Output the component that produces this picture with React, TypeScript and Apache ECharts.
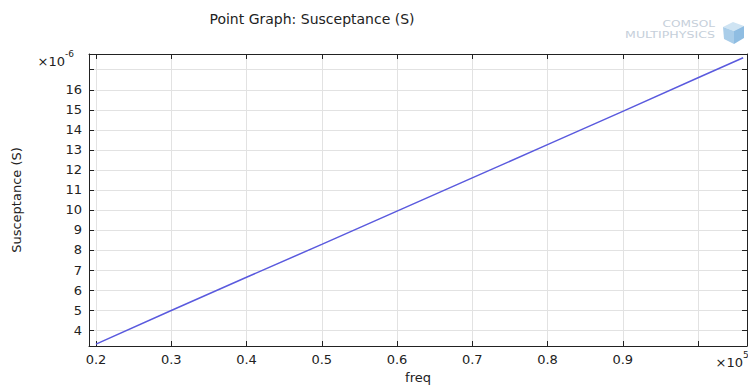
import React, { useEffect, useRef } from "react";
import * as echarts from "echarts";

// freq in units of 1e5 Hz, susceptance in units of 1e-6 S
const freq = [0.2, 0.3, 0.4, 0.5, 0.6, 0.7, 0.8, 0.9, 1.0, 1.06];
const susceptance = [3.3, 4.98, 6.64, 8.28, 9.94, 11.6, 13.26, 14.92, 16.6, 17.6];
const xTicks = [0.2, 0.3, 0.4, 0.5, 0.6, 0.7, 0.8, 0.9, 1.0];
const xLabels = [0.2, 0.3, 0.4, 0.5, 0.6, 0.7, 0.8, 0.9];
const yTicks = [4, 5, 6, 7, 8, 9, 10, 11, 12, 13, 14, 15, 16, 17];
const yLabels = [4, 5, 6, 7, 8, 9, 10, 11, 12, 13, 14, 15, 16];

const X_MIN = 0.1907;
const X_MAX = 1.0651;
const Y_MIN = 3.207;
const Y_MAX = 17.785;

const FONT = "DejaVu Sans";
const TXT = "#222";

export default function App() {
  const ref = useRef<HTMLDivElement>(null);
  useEffect(() => {
    if (!ref.current) return;
    const chart = echarts.init(ref.current, null, { renderer: "svg" });
    const axisLine = { show: true, lineStyle: { color: "#222", width: 1 } };
    const tickStyle = { lineStyle: { color: "#222", width: 1 } };
    chart.setOption({
      animation: false,
      backgroundColor: "#fff",
      textStyle: { fontFamily: FONT },
      grid: { left: 89, top: 54, right: 1, bottom: 41, containLabel: false },
      xAxis: [
        {
          type: "value",
          position: "bottom",
          min: X_MIN,
          max: X_MAX,
          axisLine,
          axisTick: { show: true, inside: true, length: 5, customValues: xTicks, ...tickStyle },
          axisLabel: {
            customValues: xLabels,
            color: TXT,
            fontSize: 13,
            fontFamily: FONT,
            margin: 7,
            formatter: (v: number) => v.toFixed(1),
          },
          splitLine: { show: true, lineStyle: { color: "#e2e2e2", width: 1 } },
          name: "freq",
          nameLocation: "middle",
          nameGap: 25,
          nameTextStyle: { color: TXT, fontSize: 13, fontFamily: FONT },
        },
        {
          type: "value",
          position: "top",
          min: X_MIN,
          max: X_MAX,
          axisLine,
          axisTick: { show: true, inside: true, length: 5, customValues: xTicks, ...tickStyle },
          axisLabel: { show: false },
          splitLine: { show: false },
        },
      ],
      yAxis: [
        {
          type: "value",
          position: "left",
          min: Y_MIN,
          max: Y_MAX,
          axisLine,
          axisTick: { show: true, inside: true, length: 5, customValues: yTicks, ...tickStyle },
          axisLabel: {
            customValues: yLabels,
            color: TXT,
            fontSize: 13,
            fontFamily: FONT,
            margin: 7,
          },
          splitLine: { show: true, lineStyle: { color: "#e2e2e2", width: 1 } },
          name: "Susceptance (S)",
          nameLocation: "middle",
          nameGap: 66,
          nameTextStyle: { color: TXT, fontSize: 13, fontFamily: FONT },
        },
        {
          type: "value",
          position: "right",
          min: Y_MIN,
          max: Y_MAX,
          axisLine,
          axisTick: { show: true, inside: true, length: 5, customValues: yTicks, ...tickStyle },
          axisLabel: { show: false },
          splitLine: { show: false },
        },
      ],
      series: [
        {
          type: "line",
          xAxisIndex: 0,
          yAxisIndex: 0,
          data: freq.map((f, i) => [f, susceptance[i]]),
          showSymbol: false,
          lineStyle: { color: "#5a5ade", width: 1.5 },
        },
      ],
      graphic: [
        {
          type: "text",
          x: 312,
          y: 19,
          style: {
            text: "Point Graph: Susceptance (S)",
            fill: TXT,
            font: `14px "${FONT}"`,
            textAlign: "center",
            textVerticalAlign: "middle",
          },
        },
        {
          type: "text",
          x: 65,
          y: 61,
          style: { text: "×10", fill: TXT, font: `13px "${FONT}"`, textAlign: "right", textVerticalAlign: "middle" },
        },
        {
          type: "text",
          x: 65,
          y: 54,
          style: { text: "-6", fill: TXT, font: `9px "${FONT}"`, textAlign: "left", textVerticalAlign: "middle" },
        },
        {
          type: "text",
          x: 743,
          y: 362,
          style: { text: "×10", fill: TXT, font: `13px "${FONT}"`, textAlign: "right", textVerticalAlign: "middle" },
        },
        {
          type: "text",
          x: 743,
          y: 355,
          style: { text: "5", fill: TXT, font: `9px "${FONT}"`, textAlign: "left", textVerticalAlign: "middle" },
        },
        {
          type: "text",
          x: 715,
          y: 24,
          scaleX: 1.35,
          style: { text: "COMSOL", fill: "#c6cfda", font: `9px "${FONT}"`, textAlign: "right", textVerticalAlign: "middle" },
        },
        {
          type: "text",
          x: 715,
          y: 35,
          scaleX: 1.4,
          style: { text: "MULTIPHYSICS", fill: "#c6cfda", font: `9px "${FONT}"`, textAlign: "right", textVerticalAlign: "middle" },
        },
        {
          type: "polygon",
          shape: { points: [[733, 22], [744, 26], [734, 31], [723, 27]] },
          style: { fill: "#cfe4f3" },
        },
        {
          type: "polygon",
          shape: { points: [[723, 27], [734, 31], [734, 44], [724, 39]] },
          style: { fill: "#a9cde9" },
        },
        {
          type: "polygon",
          shape: { points: [[734, 31], [744, 26], [744, 38], [734, 44]] },
          style: { fill: "#8fbde2" },
        },
      ],
    });
    return () => chart.dispose();
  }, []);
  return (
    <div
      ref={ref}
      style={{ position: "fixed", left: 0, top: 0, width: 748, height: 389, background: "#fff" }}
    />
  );
}
